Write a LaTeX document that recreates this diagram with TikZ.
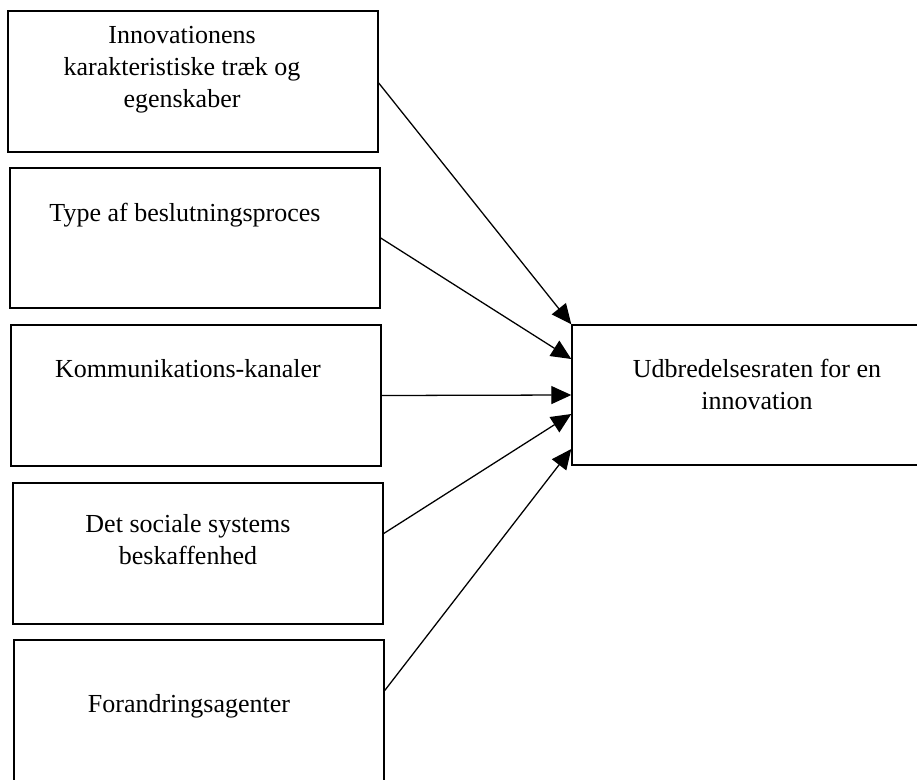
\documentclass[tikz,border=0pt]{standalone}
\usepackage{fontspec}
\setmainfont{Liberation Serif}
\usetikzlibrary{calc,arrows.meta}

\tikzset{
  box/.style={draw, line width=0.5mm, minimum width=370pt, minimum height=141pt, inner sep=0pt},
  boxtext/.style={anchor=north, align=center, inner sep=0pt, font=\fontsize{26}{32}\selectfont},
  arr/.style={line width=0.45mm, -{Triangle[length=20pt,width=18pt]}}
}

\begin{document}
\begin{tikzpicture}[x=1pt,y=-1pt]
\useasboundingbox (0,0) rectangle (917,779);
% the five factors on the left
\node[box] (innov) at (193,81.5) {};
\node[box, minimum height=140pt] (beslut) at (195,238) {};
\node[box] (komm) at (196,395.5) {};
\node[box] (social) at (198,553.5) {};
\node[box] (agent) at (199,710.5) {};
% the rate of adoption
\node[box, minimum height=140pt] (rate) at (757,395) {};

\node[boxtext] (innovtxt) at ($(innov.north)+(-11,16)$) {Innovationens\\karakteristiske træk og\\egenskaber};
\node[boxtext] (beslutxt) at ($(beslut.north)+(-10,36)$) {Type af beslutningsproces};
\node[boxtext] (kommtxt) at ($(komm.north)+(-8,35)$) {Kommunikations-kanaler};
\node[boxtext] (socialtxt) at ($(social.north)+(-10,32)$) {Det sociale systems\\beskaffenhed};
\node[boxtext] (agenttxt) at ($(agent.north)+(-10,55)$) {Forandringsagenter};
\node[boxtext] (ratetxt) at ($(rate.north)+(0,35)$) {Udbredelsesraten for en\\innovation};

\draw[arr] ($(innov.east)+(0,1.5)$) -- (rate.north west);
\draw[arr] (beslut.east) -- ($(rate.west)+(0,-36)$);
\draw[arr] (komm.east) -- (rate.west);
\draw[arr] ($(social.east)+(0,-20)$) -- ($(rate.west)+(0,19)$);
\draw[arr] ($(agent.east)+(0,-20)$) -- ($(rate.west)+(0,54)$);
\end{tikzpicture}
\end{document}
